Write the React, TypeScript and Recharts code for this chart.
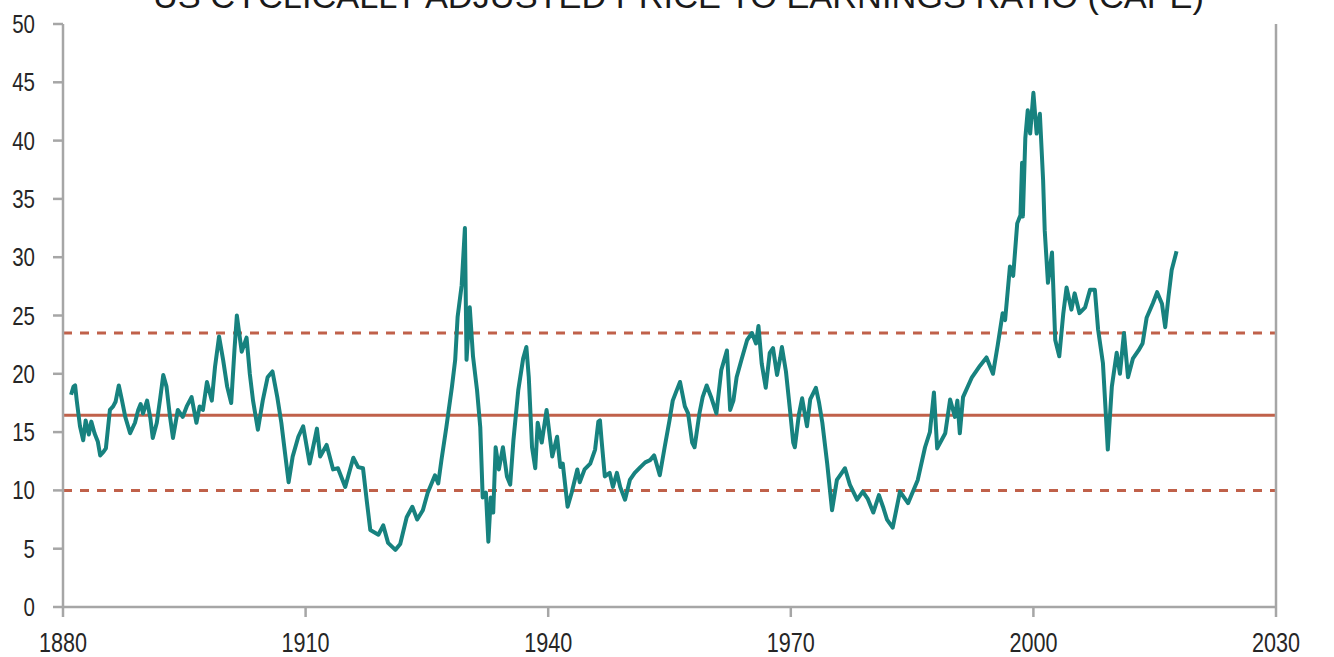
import { Line, LineChart, ReferenceLine, XAxis, YAxis } from "recharts"

const title = "US CYCLICALLY ADJUSTED PRICE TO EARNINGS RATIO (CAPE)"

const xTicks = [1880, 1910, 1940, 1970, 2000, 2030]
const yTicks = [0, 5, 10, 15, 20, 25, 30, 35, 40, 45, 50]

// long run average and +/- one standard deviation
const capeMean = 16.45
const capeUpper = 23.5
const capeLower = 10.0

const capeYears = [
  1881.0, 1881.3, 1881.5, 1881.7, 1882.1, 1882.5, 1882.8, 1883.2, 1883.5, 1883.9,
  1884.3, 1884.6, 1885.0, 1885.3, 1885.8, 1886.2, 1886.5, 1886.9, 1887.3, 1887.7,
  1888.3, 1888.9, 1889.3, 1889.6, 1889.9, 1890.4, 1890.8, 1891.1, 1891.6, 1892.0,
  1892.4, 1892.8, 1893.2, 1893.6, 1894.2, 1894.8, 1895.3, 1895.9, 1896.5, 1896.9,
  1897.3, 1897.8, 1898.4, 1898.8, 1899.3, 1899.8, 1900.3, 1900.8, 1901.2, 1901.5,
  1902.1, 1902.7, 1903.1, 1903.5, 1904.1, 1904.7, 1905.3, 1905.9, 1906.5, 1907.0,
  1907.4, 1907.9, 1908.4, 1909.1, 1909.7, 1910.5, 1911.2, 1911.4, 1911.8, 1912.6,
  1913.4, 1914.0, 1914.9, 1915.9, 1916.5, 1917.1, 1917.6, 1918.0, 1919.0, 1919.6,
  1920.2, 1921.1, 1921.7, 1922.5, 1923.2, 1923.8, 1924.5, 1925.1, 1926.0, 1926.4,
  1926.8, 1927.4, 1928.1, 1928.5, 1928.8, 1929.3, 1929.7, 1929.9, 1930.3, 1930.7,
  1931.2, 1931.6, 1931.9, 1932.3, 1932.6, 1932.9, 1933.2, 1933.5, 1933.9, 1934.4,
  1934.9, 1935.3, 1935.7, 1936.3, 1936.9, 1937.3, 1937.6, 1938.0, 1938.4, 1938.7,
  1939.2, 1939.8, 1940.2, 1940.5, 1941.1, 1941.5, 1941.8, 1942.4, 1942.9, 1943.6,
  1943.9, 1944.5, 1945.2, 1945.8, 1946.2, 1946.4, 1946.6, 1947.0, 1947.6, 1948.0,
  1948.5, 1948.9, 1949.5, 1950.1, 1950.7, 1951.4, 1952.0, 1952.6, 1953.1, 1953.8,
  1954.4, 1955.0, 1955.4, 1955.9, 1956.3, 1956.9, 1957.3, 1957.8, 1958.1, 1958.7,
  1959.1, 1959.6, 1960.2, 1960.8, 1961.4, 1962.1, 1962.5, 1962.9, 1963.3, 1963.9,
  1964.6, 1965.2, 1965.7, 1966.0, 1966.4, 1966.9, 1967.4, 1967.8, 1968.3, 1968.7,
  1968.9, 1969.4, 1969.9, 1970.3, 1970.5, 1971.0, 1971.4, 1972.0, 1972.4, 1973.1,
  1973.5, 1973.9, 1974.5, 1975.1, 1975.7, 1976.2, 1976.7, 1977.3, 1978.2, 1978.9,
  1979.5, 1980.2, 1980.9, 1981.4, 1981.9, 1982.6, 1983.5, 1984.5, 1985.7, 1986.6,
  1987.2, 1987.7, 1988.1, 1989.1, 1989.7, 1990.3, 1990.6, 1990.9, 1991.3, 1992.4,
  1993.4, 1994.2, 1995.0, 1995.6, 1996.2, 1996.5, 1997.1, 1997.5, 1998.0, 1998.4,
  1998.6, 1998.7, 1999.0, 1999.3, 1999.6, 2000.0, 2000.4, 2000.8, 2001.2, 2001.4,
  2001.8, 2002.3, 2002.7, 2003.2, 2003.7, 2004.1, 2004.7, 2005.1, 2005.7, 2006.4,
  2007.0, 2007.6, 2008.0, 2008.6, 2009.0, 2009.2, 2009.7, 2010.3, 2010.7, 2011.2,
  2011.7, 2012.3, 2013.0, 2013.5, 2014.0, 2014.8, 2015.3, 2015.9, 2016.3, 2016.7,
  2017.1, 2017.7,
]

const capeValues = [
  18.2, 18.9, 19.0, 17.7, 15.5, 14.3, 16.0, 14.8, 15.9, 14.9,
  14.2, 13.0, 13.3, 13.6, 16.9, 17.2, 17.6, 19.0, 17.7, 16.3,
  14.9, 15.8, 16.9, 17.4, 16.6, 17.7, 16.2, 14.5, 15.8, 17.8,
  19.9, 18.9, 16.5, 14.5, 16.9, 16.3, 17.2, 18.0, 15.8, 17.2,
  16.9, 19.3, 17.7, 20.6, 23.2, 21.2, 18.9, 17.5, 22.0, 25.0,
  21.9, 23.1, 20.0, 17.7, 15.2, 17.7, 19.7, 20.2, 18.0, 15.8,
  13.5, 10.7, 12.9, 14.6, 15.5, 12.3, 14.6, 15.3, 12.9, 13.9,
  11.8, 11.9, 10.3, 12.8, 12.0, 11.9, 8.9, 6.6, 6.2, 7.0,
  5.5, 4.9, 5.4, 7.7, 8.6, 7.5, 8.3, 9.8, 11.3, 10.6,
  12.6, 15.4, 18.9, 21.2, 24.9, 27.6, 32.5, 21.2, 25.7, 21.5,
  18.6, 15.4, 9.4, 9.8, 5.6, 9.4, 8.1, 13.7, 11.8, 13.7,
  11.2, 10.5, 14.3, 18.6, 21.3, 22.3, 19.7, 13.7, 11.9, 15.8,
  14.1, 16.9, 14.6, 12.9, 14.6, 12.0, 12.3, 8.6, 9.8, 11.8,
  10.7, 11.8, 12.3, 13.5, 15.9, 16.0, 14.3, 11.2, 11.5, 10.3,
  11.5, 10.3, 9.2, 10.9, 11.5, 12.0, 12.4, 12.6, 13.0, 11.3,
  13.7, 16.0, 17.7, 18.6, 19.3, 17.2, 16.6, 14.1, 13.7, 16.6,
  18.0, 19.0, 17.9, 16.6, 20.3, 22.0, 16.9, 17.7, 19.7, 21.2,
  22.9, 23.5, 22.6, 24.1, 20.9, 18.8, 21.8, 22.2, 19.9, 21.4,
  22.3, 20.2, 16.9, 14.1, 13.7, 16.5, 17.9, 15.5, 17.8, 18.8,
  17.5, 15.8, 12.3, 8.3, 10.9, 11.4, 11.9, 10.5, 9.2, 9.9,
  9.3, 8.1, 9.6, 8.6, 7.5, 6.8, 9.9, 8.9, 10.9, 13.7,
  15.0, 18.4, 13.6, 14.9, 17.8, 16.3, 17.7, 14.9, 18.0, 19.7,
  20.7, 21.4, 20.0, 22.5, 25.2, 24.6, 29.2, 28.4, 32.9, 33.6,
  38.1, 33.5, 40.2, 42.6, 40.6, 44.1, 40.6, 42.3, 36.6, 32.3,
  27.8, 30.4, 22.9, 21.5, 25.2, 27.4, 25.5, 26.9, 25.2, 25.7,
  27.2, 27.2, 23.8, 20.9, 16.0, 13.5, 18.9, 21.8, 20.0, 23.5,
  19.7, 21.3, 22.0, 22.6, 24.8, 26.1, 27.0, 26.0, 24.0, 26.6,
  28.9, 30.5,
]

const rows = capeYears.map((year, i) => ({ year, cape: capeValues[i] }))

const font = "'Liberation Sans', Arial, sans-serif"
const axisGrey = "#a6a6a6"
const textColor = "#262626"
const refColor = "#c0614a"
const teal = "#17827f"

// condensed look: squeeze Liberation Sans horizontally
function XTick(props: any) {
  const { x, y, payload } = props
  return (
    <text
      transform={`translate(${x},${y + 19}) scale(0.8,1)`}
      textAnchor="middle"
      fontFamily={font}
      fontSize={27}
      fill={textColor}
    >
      {payload.value}
    </text>
  )
}

function YTick(props: any) {
  const { x, y, payload, textAnchor } = props
  return (
    <text
      transform={`translate(${x},${y + 9}) scale(0.82,1)`}
      textAnchor={textAnchor}
      fontFamily={font}
      fontSize={25}
      fill={textColor}
    >
      {payload.value}
    </text>
  )
}

export default function App() {
  return (
    <div
      style={{
        position: "absolute",
        left: 0,
        top: 0,
        width: 1334,
        height: 657,
        overflow: "hidden",
        background: "#fff",
      }}
    >
      <svg width={1334} height={40} style={{ position: "absolute", left: 0, top: 0 }}>
        <text
          x={153}
          y={8}
          textLength={1051}
          lengthAdjust="spacingAndGlyphs"
          fontFamily={font}
          fontSize={34}
          fill="#1a1a1a"
        >
          {title}
        </text>
      </svg>
      <LineChart width={1334} height={657} data={rows} margin={{ top: 24, right: 0, bottom: 0, left: 0 }}>
        <XAxis
          dataKey="year"
          type="number"
          domain={[1880, 2030]}
          ticks={xTicks}
          interval={0}
          height={50}
          tickSize={10}
          tickMargin={16}
          stroke={axisGrey}
          strokeWidth={2.5}
          tick={<XTick />}
        />
        <YAxis
          yAxisId="left"
          domain={[0, 50]}
          ticks={yTicks}
          interval={0}
          width={63}
          tickSize={10}
          tickMargin={18}
          stroke={axisGrey}
          strokeWidth={2.5}
          tick={<YTick />}
        />
        <YAxis
          yAxisId="right"
          orientation="right"
          domain={[0, 50]}
          ticks={yTicks}
          interval={0}
          width={58}
          tickSize={10}
          tickMargin={18}
          stroke={axisGrey}
          strokeWidth={2.5}
          tick={<YTick />}
        />
        <ReferenceLine yAxisId="left" y={capeUpper} stroke={refColor} strokeWidth={3} strokeDasharray="9 8" />
        <ReferenceLine yAxisId="left" y={capeMean} stroke={refColor} strokeWidth={3} />
        <ReferenceLine yAxisId="left" y={capeLower} stroke={refColor} strokeWidth={3} strokeDasharray="9 8" />
        <Line
          yAxisId="left"
          type="linear"
          dataKey="cape"
          stroke={teal}
          strokeWidth={4}
          strokeLinejoin="round"
          dot={false}
          activeDot={false}
          isAnimationActive={false}
        />
      </LineChart>
    </div>
  )
}
